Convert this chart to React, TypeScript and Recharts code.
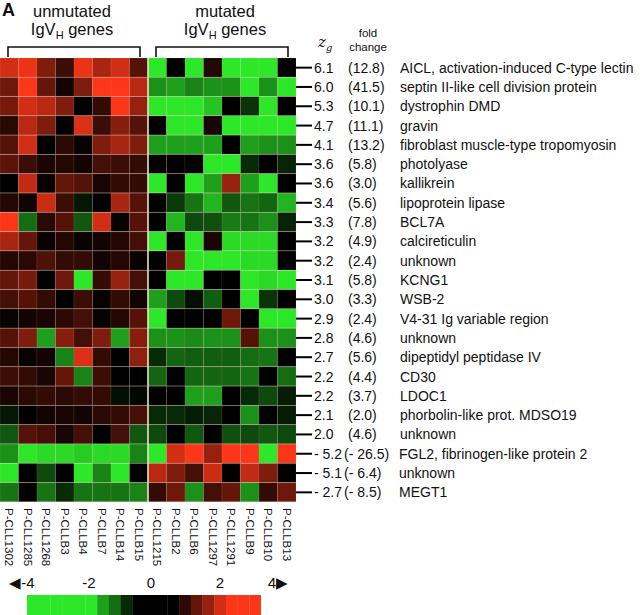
import { BarChart, Bar, Cell, XAxis, YAxis, ReferenceLine } from 'recharts';

const FONT = '"Liberation Sans", Arial, Helvetica, sans-serif';

const samples = [
  'P-CLL1302', 'P-CLL1285', 'P-CLL1268', 'P-CLLB3', 'P-CLLB4', 'P-CLLB7', 'P-CLLB14', 'P-CLLB15',
  'P-CLL1215', 'P-CLLB2', 'P-CLLB6', 'P-CLL1297', 'P-CLL1291', 'P-CLLB9', 'P-CLLB10', 'P-CLLB13',
];

const genes = [
  'AICL, activation-induced C-type lectin', 'septin II-like cell division protein', 'dystrophin DMD',
  'gravin', 'fibroblast muscle-type tropomyosin', 'photolyase', 'kallikrein', 'lipoprotein lipase',
  'BCL7A', 'calcireticulin', 'unknown', 'KCNG1', 'WSB-2', 'V4-31 Ig variable region', 'unknown',
  'dipeptidyl peptidase IV', 'CD30', 'LDOC1', 'phorbolin-like prot. MDSO19', 'unknown',
  'FGL2, fibrinogen-like protein 2', 'unknown', 'MEGT1',
];

const zScores = ['6.1', '6.0', '5.3', '4.7', '4.1', '3.6', '3.6', '3.4', '3.3', '3.2', '3.2', '3.1', '3.0',
  '2.9', '2.8', '2.7', '2.2', '2.2', '2.1', '2.0', '- 5.2', '- 5.1', '- 2.7'];

const foldChanges = ['(12.8)', '(41.5)', '(10.1)', '(11.1)', '(13.2)', '(5.8)', '(3.0)', '(5.6)', '(7.8)',
  '(4.9)', '(2.4)', '(5.8)', '(3.3)', '(2.4)', '(4.6)', '(5.6)', '(4.4)', '(3.7)', '(2.0)', '(4.6)',
  '(- 26.5)', '(- 6.4)', '(- 8.5)'];

// log-ratio per gene (row) for the 8 unmutated samples
const unmutatedValues = [
  [2.5, 2.8, 1.5, 0.7, 2.8, 2.0, 2.5, 1.0],
  [1.3, 3.5, 1.2, 0.2, 1.5, 3.5, 3.2, 2.2],
  [1.4, 2.5, 2.2, 1.5, 0.0, 0.6, 3.0, 1.8],
  [0.5, 2.2, 1.5, 0.0, 2.6, 0.7, 1.6, 1.0],
  [1.0, 2.5, 0.0, 0.5, 0.1, 1.5, 2.0, 1.5],
  [1.1, 0.7, 0.3, 0.4, 0.2, 0.8, 0.7, 0.6],
  [0.0, 2.3, 0.1, 1.2, 1.0, 0.3, 0.6, 0.6],
  [0.4, 0.2, 2.4, 0.7, -0.3, 0.0, 2.0, 1.0],
  [3.5, -1.5, 0.5, 1.0, -1.2, 2.5, 0.1, 1.0],
  [2.0, 1.2, 0.1, 0.4, 0.1, 0.2, 0.4, 0.8],
  [0.4, 0.5, 0.9, 0.6, 0.6, 0.2, 0.4, 0.1],
  [1.2, 1.4, 0.0, 1.3, -3.2, 0.6, 1.8, 0.8],
  [0.8, 1.0, 0.6, 0.0, 0.7, 0.1, 0.6, 0.2],
  [0.1, 0.2, 0.3, 0.5, 0.8, 0.1, 0.4, 1.0],
  [1.0, 1.5, -2.2, 1.6, 0.8, 1.5, -2.2, 1.6],
  [0.4, 0.1, 0.2, -1.8, 2.6, 0.6, 0.0, 1.7],
  [0.7, 0.6, 0.3, 1.2, -1.8, 0.7, 0.0, 0.0],
  [0.3, 0.5, 0.6, 0.5, 0.6, 0.6, -0.2, -0.1],
  [-0.3, 0.0, 0.2, 0.3, 0.2, 0.5, 0.6, 0.8],
  [-1.2, 1.0, 0.8, 0.3, 0.8, 0.0, 0.8, -1.2],
  [-2.0, -3.2, -3.0, -3.0, -2.8, -3.0, -3.0, -1.8],
  [-3.5, 0.0, -1.0, 0.0, -3.5, -1.8, -3.5, 0.0],
  [-1.6, 0.0, -1.6, -0.6, -1.6, -1.6, -1.6, -1.8],
];

// same for the 8 mutated samples
const mutatedValues = [
  [-3.5, 0.0, -3.5, 0.4, -3.5, -3.2, -3.2, 0.0],
  [-2.0, -2.2, -1.8, -2.0, -2.0, -3.2, -2.0, -3.2],
  [-3.5, -3.3, -3.3, -2.7, 0.0, -0.7, -3.2, 0.0],
  [0.0, -3.3, -3.3, 0.3, -3.3, -3.2, -3.2, -3.2],
  [-2.2, -2.2, -2.2, -2.2, 0.0, -2.2, -2.0, -2.0],
  [0.0, 0.0, 0.0, -3.3, -3.3, -0.6, 0.0, -0.5],
  [-3.3, 0.0, -3.3, -2.2, 1.8, -2.2, -3.2, 0.0],
  [0.0, -0.8, -1.6, -2.5, -1.2, -1.6, -1.4, -2.5],
  [0.0, -2.5, -1.0, -1.1, -1.7, -1.6, -2.0, -0.5],
  [-3.3, 0.0, -3.2, 0.3, -3.0, -3.0, -3.0, 0.0],
  [0.0, 1.4, -3.2, -3.2, -3.2, -3.0, -3.0, 0.0],
  [0.0, -3.2, -3.2, 0.0, 0.0, -3.2, -3.0, -3.2],
  [-2.2, -1.0, -0.2, -1.3, 0.0, -3.3, -0.7, 0.0],
  [-3.3, 0.0, 0.0, 0.0, 1.3, 0.0, -3.2, -3.2],
  [-2.0, -2.0, -1.9, -2.0, -2.0, 1.0, -2.0, -2.0],
  [-0.6, -1.4, -1.3, -1.3, -1.3, -1.5, -1.6, 0.0],
  [-1.4, 0.0, -1.4, -1.4, -1.4, -1.6, 0.0, -1.5],
  [0.0, 0.0, -2.2, -2.2, 0.0, -0.6, -1.0, -0.4],
  [-0.6, -0.6, -0.4, -0.5, 0.0, -2.0, 0.0, -0.4],
  [-1.0, 0.0, -1.2, 0.0, -1.1, -1.0, -1.2, -1.0],
  [-3.2, 2.5, 3.5, 1.8, 3.6, 3.3, -3.2, 3.3],
  [2.2, 1.5, 0.8, 2.4, 0.0, 2.3, 1.5, 0.0],
  [0.6, 1.3, -2.0, 0.8, 1.2, -2.0, 0.6, 1.3],
];

const legendSteps = [-4, -4, -4, -4, -4, -4, -2.2, -1.5, -0.6, 0, 0, 0, 0, 0.5, 1.2, 1.8, 2.5, 3.0, 3.4, 3.4];
const legendTicks = ['\u25C0-4', '-2', '0', '2', '4\u25B6'];

function heatColor(v: number) {
  if (v >= 0) {
    const t = Math.min(v / 3.0, 1);
    return `rgb(${Math.round(252 * t)},${Math.round(55 * t)},${Math.round(25 * t)})`;
  }
  const t = Math.min(-v / 3.2, 1);
  return `rgb(${Math.round(45 * t)},${Math.round(232 * t)},${Math.round(40 * t)})`;
}

const values = unmutatedValues.map((row, i) => [...row, ...mutatedValues[i]]);

const rows = genes.map((gene, i) => {
  const r: Record<string, any> = { gene: `${i}`, name: gene };
  samples.forEach((_, j) => { r[`s${j}`] = 1; });
  return r;
});

const GeneTick = ({ x, y, payload }: any) => {
  const i = Number(payload.value);
  const neg = zScores[i].startsWith('-');
  return (
    <g fontFamily={FONT} fontSize={14} fill="#111">
      <line x1={x} x2={x + 16} y1={y} y2={y} stroke="#000" strokeWidth={2} />
      <text x={x + 18} y={y} dy={5} fill="#111">{zScores[i]}</text>
      <text x={x + (neg ? 48 : 52)} y={y} dy={5} fill="#111">{foldChanges[i]}</text>
      <text x={x + (neg ? 103 : 104)} y={y} dy={5} fill="#111">{genes[i]}</text>
    </g>
  );
};

const SampleTick = ({ x, y, payload }: any) => {
  const j = Math.floor(payload.value);
  return (
    <text
      transform={`translate(${x - 4},${y + 6}) rotate(90)`}
      fontFamily={FONT}
      fontSize={11.5}
      fill="#111"
    >
      {samples[j]}
    </text>
  );
};

export default function App() {
  return (
    <div style={{ position: 'absolute', left: 0, top: 0, width: 640, height: 615, background: '#fff' }}>
      <BarChart
        width={640}
        height={615}
        data={rows}
        layout="vertical"
        barCategoryGap={0}
        barGap={0}
        margin={{ top: 58, right: 0, bottom: 53, left: 0 }}
      >
        <XAxis
          type="number"
          domain={[0, 16]}
          ticks={samples.map((_, j) => j + 0.5)}
          interval={0}
          height={60}
          axisLine={false}
          tickLine={false}
          tickSize={0}
          tickMargin={0}
          tick={<SampleTick />}
        />
        <YAxis
          type="category"
          dataKey="gene"
          orientation="right"
          width={344}
          interval={0}
          axisLine={false}
          tickLine={false}
          tickSize={0}
          tickMargin={0}
          tick={<GeneTick />}
        />
        {samples.map((s, j) => (
          <Bar key={s} dataKey={`s${j}`} stackId="m" isAnimationActive={false}
            stroke="rgba(255,190,160,0.18)" strokeWidth={0.6}>
            {rows.map((_, i) => (
              <Cell key={i} fill={heatColor(values[i][j])} />
            ))}
          </Bar>
        ))}
        <ReferenceLine x={8} stroke="#f3ead2" strokeWidth={1.5} />
      </BarChart>

      <div style={{ position: 'absolute', left: 27, top: 595 }}>
        <BarChart width={234} height={20} data={legendSteps.map((v, k) => ({ k, one: 1, v }))}
          barCategoryGap={0} barGap={0} margin={{ top: 0, right: 0, bottom: 0, left: 0 }}>
          <XAxis dataKey="k" hide />
          <YAxis hide domain={[0, 1]} />
          <Bar dataKey="one" isAnimationActive={false}>
            {legendSteps.map((v, k) => <Cell key={k} fill={heatColor(v)} />)}
          </Bar>
        </BarChart>
      </div>

      <svg width={640} height={615} style={{ position: 'absolute', left: 0, top: 0, pointerEvents: 'none' }}
        fontFamily={FONT}>
        <text x={2} y={16} fontSize={18} fontWeight="bold" fill="#111">A</text>
        <text x={72} y={16.5} fontSize={16.5} textAnchor="middle" fill="#111">unmutated</text>
        <text x={72} y={35} fontSize={16.5} textAnchor="middle" fill="#111">
          IgV<tspan fontSize={11} dy={4}>H</tspan><tspan dy={-4}> genes</tspan>
        </text>
        <text x={225} y={16.5} fontSize={16.5} textAnchor="middle" fill="#111">mutated</text>
        <text x={225} y={35} fontSize={16.5} textAnchor="middle" fill="#111">
          IgV<tspan fontSize={11} dy={4}>H</tspan><tspan dy={-4}> genes</tspan>
        </text>
        <path d="M8,57 V47 H140 V57" fill="none" stroke="#111" strokeWidth={1.6} />
        <path d="M156,57 V47 H288 V57" fill="none" stroke="#111" strokeWidth={1.6} />
        <text x={318} y={47} fontSize={15} fontStyle="italic" fontFamily="'DejaVu Serif', serif" fill="#111">
          z<tspan fontSize={10} dy={4}>g</tspan>
        </text>
        <text x={368} y={37} fontSize={11.5} textAnchor="middle" fill="#111">fold</text>
        <text x={368} y={51} fontSize={11.5} textAnchor="middle" fill="#111">change</text>
        {legendTicks.map((t, k) => (
          <text key={t} x={[22, 89, 151, 220, 278][k]} y={588} fontSize={15} textAnchor="middle" fill="#111">{t}</text>
        ))}
      </svg>
    </div>
  );
}
